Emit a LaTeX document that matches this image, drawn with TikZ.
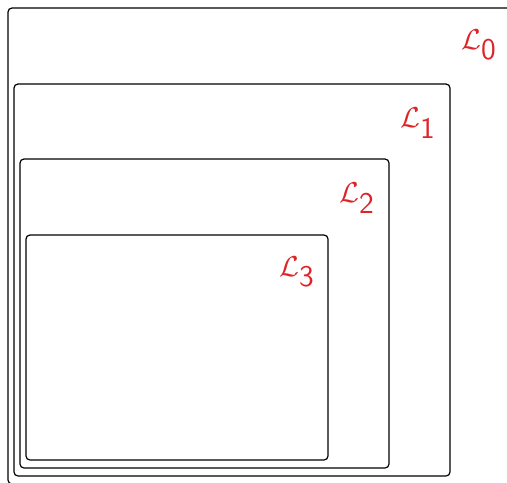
\documentclass[tikz,border=0pt]{standalone}
\usepackage{xcolor}
\definecolor{lvlRed}{HTML}{DD2428}
\usetikzlibrary{positioning}
\tikzset{
    lvlbox/.style={draw, line width=0.6pt, rounded corners=2pt},
    lvllabel/.style={text=lvlRed, font=\fontsize{15}{18}\selectfont, inner sep=0pt},
}
\newcommand{\lvl}[1]{$\mathcal{L}_{\textsf{#1}}$}

\begin{document}
\begin{tikzpicture}[x=0.5pt, y=-0.5pt]
\useasboundingbox (0,0) rectangle (507,482);
\clip (0,0) rectangle (507,482);
% Nested levels, outermost first.
\draw[lvlbox] (8,8)   rectangle (511,484);
\draw[lvlbox] (14,84) rectangle (450,476);
\draw[lvlbox] (20,159) rectangle (389,468);
\draw[lvlbox] (26,235) rectangle (328,460);
% Labels.
\node[lvllabel] (l0) at (479,45)  {\lvl{0}};
\node[lvllabel] (l1) at (418,123) {\lvl{1}};
\node[lvllabel] (l2) at (357,198) {\lvl{2}};
\node[lvllabel] (l3) at (297,272) {\lvl{3}};
\end{tikzpicture}
\end{document}
